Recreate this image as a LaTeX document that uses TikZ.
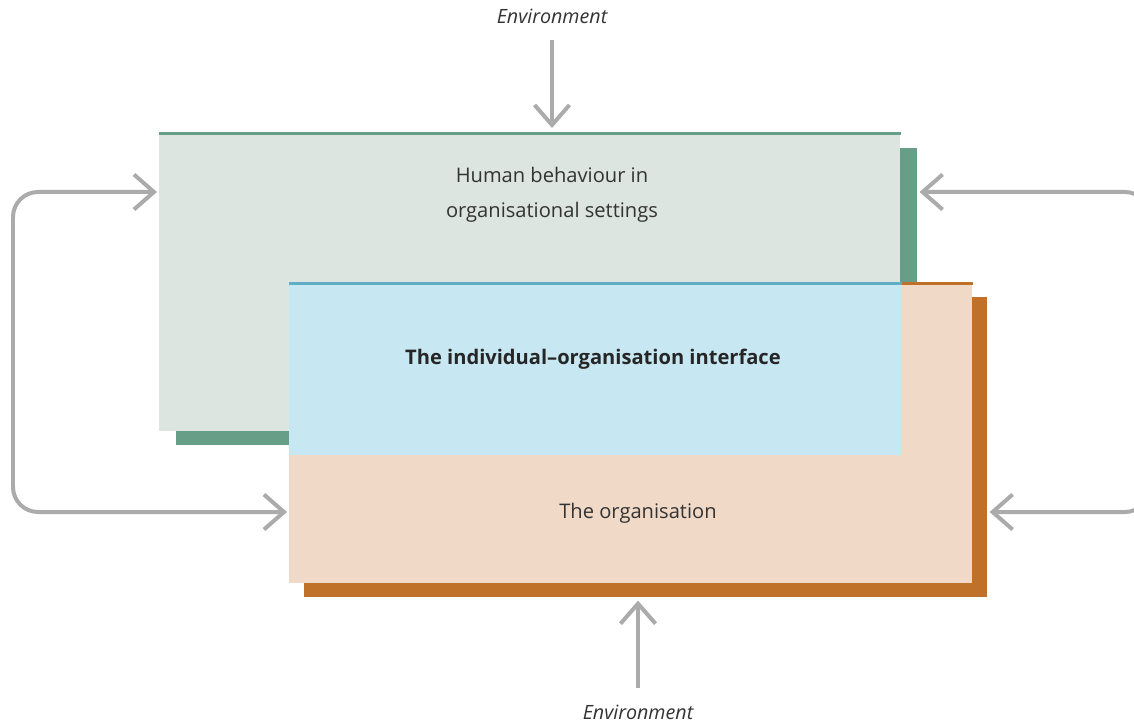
\documentclass[tikz,border=0pt]{standalone}
\usepackage{fontspec}
\setmainfont{Open Sans}
\usetikzlibrary{positioning,arrows.meta}

\definecolor{hbfill}{HTML}{DCE5E0}
\definecolor{hbdark}{HTML}{679E87}
\definecolor{iofill}{HTML}{C7E8F3}
\definecolor{ioline}{HTML}{62ADC6}
\definecolor{orgfill}{HTML}{F0D9C7}
\definecolor{orgdark}{HTML}{BF7029}
\definecolor{flowgray}{HTML}{ABABAB}
\definecolor{txt}{HTML}{333333}

\tikzset{
  panel/.style={draw=none, anchor=north west, inner sep=0pt},
  barb/.tip={Straight Barb[length=0.4cm, width=0.7cm]},
  flow/.style={draw=flowgray, line width=0.08cm, -barb},
  loop/.style={draw=flowgray, line width=0.08cm, rounded corners=0.5cm,
    barb-barb, shorten <=0.04cm, shorten >=0.04cm},
  caption/.style={text=txt, font=\fontsize{11.45}{20}\selectfont, align=center},
  envlabel/.style={text=txt, font=\fontsize{11.2}{13}\selectfont\itshape}
}

\begin{document}
\begin{tikzpicture}[x=0.02cm, y=-0.02cm]

    \clip (0,0) rectangle (1134,723);

    % Human behaviour panel and its shadow
    \node[panel, fill=hbdark, minimum width=14.82cm, minimum height=5.94cm] (hbshadow) at (176,148) {};
    \node[panel, fill=hbfill, minimum width=14.82cm, minimum height=5.98cm] (hb) at (159,132) {};
    \draw[hbdark, line width=0.07cm] ([yshift=-0.035cm]hb.north west) -- ([yshift=-0.035cm]hb.north east);

    % Organisation panel and its shadow
    \node[panel, fill=orgdark, minimum width=13.66cm, minimum height=6.0cm] (orgshadow) at (304,297) {};
    \node[panel, fill=orgfill, minimum width=13.66cm, minimum height=6.02cm] (org) at (289,282) {};

    % Interface panel on top
    \node[panel, fill=iofill, minimum width=12.24cm, minimum height=3.46cm] (io) at (289,282) {};
    \draw[orgdark, line width=0.06cm] ([yshift=-0.03cm]io.north east) -- ([yshift=-0.03cm]org.north east);
    \draw[ioline, line width=0.06cm] ([yshift=-0.03cm]io.north west) -- ([yshift=-0.03cm]io.north east);

    % Labels
    \node[caption] (hbtext) at (552,195) {Human behaviour in\\organisational settings};
    \node[caption, font=\fontsize{11.45}{20}\selectfont\bfseries, text=black!85] (iotext) at (593,359)
        {The individual--organisation interface};
    \node[caption] (orgtext) at (638,513) {The organisation};

    % Environment inputs
    \node[envlabel] (envtop) at (552,16) {Environment};
    \node[envlabel] (envbot) at (638,712) {Environment};
    \draw[flow, shorten <=0.2cm, shorten >=0.08cm] (envtop) -- (envtop |- hb.north);
    \draw[flow, shorten <=0.2cm, shorten >=0.06cm] (envbot) -- (envbot |- orgshadow.south);

    % Feedback loops
    \coordinate (lbend) at (13,0);
    \coordinate (rbend) at (1150,0);
    \draw[loop] (hb.west |- 0,192) -- (lbend |- 0,192) -- (lbend |- 0,512) -- (org.west |- 0,512);
    \draw[loop] (hbshadow.east |- 0,192) -- (rbend |- 0,192) -- (rbend |- 0,512) -- (orgshadow.east |- 0,512);

\end{tikzpicture}
\end{document}
